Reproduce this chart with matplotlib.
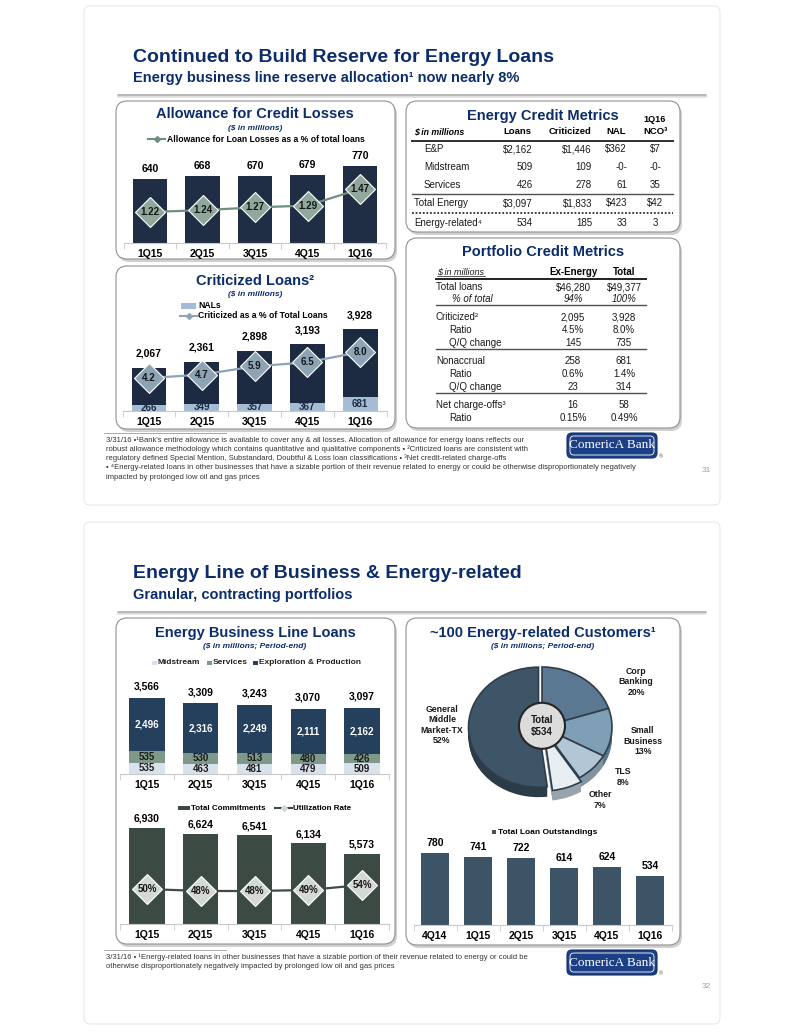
import matplotlib
matplotlib.use('Agg')
import matplotlib.pyplot as plt
from matplotlib.patches import FancyBboxPatch, Ellipse, Rectangle
import numpy as np

W, H = 799, 1034
plt.rcParams['font.family'] = ['Liberation Sans', 'DejaVu Sans']

NAVY = '#0c2d6b'

# ---- data ----
quarters = ['1Q15', '2Q15', '3Q15', '4Q15', '1Q16']
allowance = [640, 668, 670, 679, 770]
allowance_pct = [1.22, 1.24, 1.27, 1.29, 1.47]
criticized = [2067, 2361, 2898, 3193, 3928]
nals = [266, 349, 357, 367, 681]
criticized_pct = [4.2, 4.7, 5.9, 6.5, 8.0]

ecm_rows = ['E&P', 'Midstream', 'Services', 'Total Energy', 'Energy-related⁴']
ecm_loans = ['$2,162', '509', '426', '$3,097', '534']
ecm_crit = ['$1,446', '109', '278', '$1,833', '185']
ecm_nal = ['$362', '-0-', '61', '$423', '33']
ecm_nco = ['$7', '-0-', '35', '$42', '3']

pcm_rows = ['Total loans', '% of total', 'Criticized²', 'Ratio', 'Q/Q change',
            'Nonaccrual', 'Ratio', 'Q/Q change', 'Net charge-offs³', 'Ratio']
pcm_ex = ['$46,280', '94%', '2,095', '4.5%', '145', '258', '0.6%', '23', '16', '0.15%']
pcm_total = ['$49,377', '100%', '3,928', '8.0%', '735', '681', '1.4%', '314', '58', '0.49%']

midstream = [535, 463, 481, 479, 509]
services = [535, 530, 513, 480, 426]
exploration = [2496, 2316, 2249, 2111, 2162]
commitments = [6930, 6624, 6541, 6134, 5573]
utilization = [50, 48, 48, 49, 54]

pie_labels = ['Corp\nBanking', 'Small\nBusiness', 'TLS', 'Other', 'General\nMiddle\nMarket-TX']
pie_pcts = [20, 13, 8, 7, 52]
pie_total = 534

tlo_quarters = ['4Q14', '1Q15', '2Q15', '3Q15', '4Q15', '1Q16']
tlo = [780, 741, 722, 614, 624, 534]

foot1 = ["3/31/16 •¹Bank's entire allowance is available to cover any & all losses. Allocation of allowance for energy loans reflects our",
         "robust allowance methodology which contains quantitative and qualitative components • ²Criticized loans are consistent with",
         "regulatory defined Special Mention, Substandard, Doubtful & Loss loan classifications • ³Net credit-related charge-offs",
         "• ⁴Energy-related loans in other businesses that have a sizable portion of their revenue related to energy or could be otherwise disproportionately negatively",
         "impacted by prolonged low oil and gas prices"]
foot2 = ["3/31/16 • ¹Energy-related loans in other businesses that have a sizable portion of their revenue related to energy or could be",
         "otherwise disproportionately negatively impacted by prolonged low oil and gas prices"]

# ---- figure ----
fig = plt.figure(figsize=(W / 100, H / 100), dpi=100)
bg = fig.add_axes([0, 0, 1, 1])
bg.set_xlim(0, W)
bg.set_ylim(H, 0)
bg.axis('off')


def px_axes(x0, y0, x1, y1):
    ax = fig.add_axes([x0 / W, 1 - y1 / H, (x1 - x0) / W, (y1 - y0) / H])
    ax.patch.set_alpha(0)
    return ax


def box(x0, y0, x1, y1):
    bg.add_patch(FancyBboxPatch((x0 + 2, y0 + 3), x1 - x0, y1 - y0,
                                boxstyle='round,pad=0,rounding_size=11', fc='#d0d0d0', ec='none'))
    bg.add_patch(FancyBboxPatch((x0, y0), x1 - x0, y1 - y0,
                                boxstyle='round,pad=0,rounding_size=11', fc='white', ec='#909090', lw=0.8))


def slide(y0, y1, title, subtitle, liney, foot, footy, page):
    bg.add_patch(FancyBboxPatch((84, y0), 636, y1 - y0, boxstyle='round,pad=0,rounding_size=6',
                                fc='white', ec='#e2e2e2', lw=0.6))
    bg.text(133, liney - 38, title, fontsize=14, fontweight='bold', color=NAVY, va='center')
    bg.text(133, liney - 17, subtitle, fontsize=10.5, fontweight='bold', color=NAVY, va='center')
    bg.plot([117, 706], [liney, liney], color='#b8b8b8', lw=2.2, solid_capstyle='butt')
    bg.plot([117, 706], [liney + 2, liney + 2], color='#e4e4e4', lw=1.2, solid_capstyle='butt')
    bg.plot([104, 226], [footy - 7, footy - 7], color='#9a9a9a', lw=0.6)
    for k, line in enumerate(foot):
        bg.text(106, footy + k * 9.3, line, fontsize=5.5, color='#333333', va='center')
    # logo
    ly = footy - 7
    bg.add_patch(FancyBboxPatch((567, ly), 90, 25, boxstyle='round,pad=0,rounding_size=5',
                                fc='#1c3f85', ec='#12306b', lw=0.8))
    bg.add_patch(FancyBboxPatch((570, ly + 3), 84, 19, boxstyle='round,pad=0,rounding_size=4',
                                fc='none', ec='white', lw=0.6))
    bg.text(612, ly + 12.5, 'ComericA Bank', family='Liberation Serif', fontsize=9.5,
            color='white', ha='center', va='center')
    bg.text(661, ly + 24, '®', fontsize=4, color='#555555', ha='center', va='center')
    bg.text(706, ly + 37, page, fontsize=6, color='#a0a0a0', ha='center', va='center')


def box_title(xc, y, text, sub=None):
    bg.text(xc, y, text, fontsize=10.5, fontweight='bold', color=NAVY, ha='center', va='center')
    if sub:
        bg.text(xc, y + 14, sub, fontsize=6, fontweight='bold', style='italic', color=NAVY,
                ha='center', va='center')


def bar_axes(cx0, step, n, ytop, ybase, labels):
    ax = px_axes(cx0 - step / 2, ytop, cx0 + step * (n - 0.5), ybase)
    ax.set_xlim(-0.5, n - 0.5)
    for s in ['top', 'right', 'left']:
        ax.spines[s].set_visible(False)
    ax.spines['bottom'].set_color('#c8c8c8')
    ax.set_yticks([])
    ax.set_xticks(range(n))
    ax.set_xticklabels(labels, fontweight='bold', fontsize=7.5)
    ax.set_xticks(np.arange(-0.5, n), minor=True)
    ax.tick_params(axis='x', which='major', length=0, pad=4)
    ax.tick_params(axis='x', which='minor', length=4, color='#c8c8c8')
    return ax


def diamond_line(ax, vals, lo, hi, lc, dc, fmt, ms):
    ax2 = ax.twinx()
    ax2.set_ylim(lo, hi)
    ax2.axis('off')
    x = np.arange(len(vals))
    ax2.plot(x, vals, color=lc, lw=1.6, marker='D', ms=ms, mfc=dc, mec='white', mew=0.8, zorder=3)
    for i, v in enumerate(vals):
        ax2.text(i, v, fmt(v), ha='center', va='center', fontsize=7, fontweight='bold',
                 color='#151515', zorder=4)
    return ax2


def top_labels(ax, tops, off):
    for i, v in enumerate(tops):
        ax.annotate(f'{v:,}', (i, v), xytext=(0, off), textcoords='offset points',
                    ha='center', va='center', fontsize=7.5, fontweight='bold')


# ================= slide 1 =================
slide(6, 505, 'Continued to Build Reserve for Energy Loans',
      'Energy business line reserve allocation¹ now nearly 8%', 95, foot1, 440, '31')

box(116, 101, 395, 259)
box(116, 266, 395, 429)
box(406, 101, 680, 232)
box(406, 238, 680, 428)

# Allowance for Credit Losses
box_title(255, 114, 'Allowance for Credit Losses', '($ in millions)')
bg.plot([148, 165], [139, 139], color='#6f8f80', lw=1.5)
bg.plot([156.5], [139], marker='D', ms=3, color='#6f8f80')
bg.text(167, 139, 'Allowance for Loan Losses as a % of total loans', fontsize=6.2,
        fontweight='bold', va='center')
ax = bar_axes(150, 52.5, 5, 150, 243, quarters)
ax.bar(range(5), allowance, width=0.66, color='#1f2d45')
ax.set_ylim(0, 930)
top_labels(ax, allowance, 7.5)
diamond_line(ax, allowance_pct, 0.883, 1.894, '#6f8f80', '#8fa89b', lambda v: f'{v:.2f}', 15)

# Criticized Loans
box_title(255, 281, 'Criticized Loans²', '($ in millions)')
bg.add_patch(Rectangle((181, 303), 15, 6, fc='#a5bcd5', ec='none'))
bg.text(198, 306, 'NALs', fontsize=6.2, fontweight='bold', va='center')
bg.plot([180, 197], [316, 316], color='#8ca4b6', lw=1.5)
bg.plot([188.5], [316], marker='D', ms=3, color='#8ca4b6')
bg.text(198, 316, 'Criticized as a % of Total Loans', fontsize=6.2, fontweight='bold', va='center')
ax = bar_axes(149, 52.8, 5, 300, 411, quarters)
ax.bar(range(5), criticized, width=0.66, color='#1c2a42')
ax.bar(range(5), nals, width=0.66, color='#a5bcd5')
ax.set_ylim(0, 5317)
top_labels(ax, criticized, 10)
for i, v in enumerate(nals):
    ax.text(i, v / 2, f'{v:,}', ha='center', va='center', fontsize=7, fontweight='bold',
            color='#1c2a42')
diamond_line(ax, criticized_pct, -0.62, 15.6, '#8ca4b6', '#8ca4b6', lambda v: f'{v:.1f}', 15)

# Energy Credit Metrics table
bg.text(543, 116, 'Energy Credit Metrics', fontsize=10.5, fontweight='bold', color=NAVY,
        ha='center', va='center')
bg.text(655, 120, '1Q16', fontsize=6.5, fontweight='bold', ha='center', va='center')
hy = 132
bg.text(414, hy, '$ in millions', fontsize=6.3, fontweight='bold', style='italic', va='center')
for xr, t in [(531, 'Loans'), (591, 'Criticized'), (626, 'NAL')]:
    bg.text(xr, hy, t, fontsize=6.8, fontweight='bold', ha='right', va='center')
bg.text(655, hy, 'NCO³', fontsize=6.8, fontweight='bold', ha='center', va='center')
bg.plot([412, 673], [141, 141], color='#303030', lw=1.4)
row_y = [149, 167, 185, 203, 223]
row_x = [424, 424, 424, 414, 414]
for k in range(5):
    y = row_y[k]
    bg.text(row_x[k], y, ecm_rows[k], fontsize=7, va='center', color='#1a1a1a')
    bg.text(533, y, ecm_loans[k], fontsize=7, ha='right', va='center', color='#1a1a1a')
    bg.text(592, y, ecm_crit[k], fontsize=7, ha='right', va='center', color='#1a1a1a')
    bg.text(627, y, ecm_nal[k], fontsize=7, ha='right', va='center', color='#1a1a1a')
    bg.text(655, y, ecm_nco[k], fontsize=7, ha='center', va='center', color='#1a1a1a')
bg.plot([412, 673], [194, 194], color='#505050', lw=1.0)
bg.plot([412, 673], [213, 213], color='#303030', lw=1.3, ls=(0, (1, 1)))

# Portfolio Credit Metrics table
bg.text(543, 252, 'Portfolio Credit Metrics', fontsize=10.5, fontweight='bold', color=NAVY,
        ha='center', va='center')
bg.text(437, 272, '$ in millions', fontsize=6.5, style='italic', va='center', color='#1a1a1a')
bg.plot([437, 485], [276, 276], color='#1a1a1a', lw=0.5)
bg.text(573, 272, 'Ex-Energy', fontsize=7, fontweight='bold', ha='center', va='center')
bg.text(624, 272, 'Total', fontsize=7, fontweight='bold', ha='center', va='center')
bg.plot([436, 646], [278.5, 278.5], color='#202020', lw=1.4)
pcm_y = [287, 299, 317, 330, 343, 361, 374, 387, 405, 418]
pcm_indent = [0, 16, 0, 13, 13, 0, 13, 13, 0, 13]
for k in range(len(pcm_rows)):
    st = 'italic' if k == 1 else 'normal'
    y = pcm_y[k]
    bg.text(436 + pcm_indent[k], y, pcm_rows[k], fontsize=7, style=st, va='center', color='#1a1a1a')
    bg.text(573, y, pcm_ex[k], fontsize=7, style=st, ha='center', va='center', color='#1a1a1a')
    bg.text(624, y, pcm_total[k], fontsize=7, style=st, ha='center', va='center', color='#1a1a1a')
for y in [305, 349, 393]:
    bg.plot([436, 646], [y, y], color='#505050', lw=1.0)

# ================= slide 2 =================
slide(522, 1024, 'Energy Line of Business & Energy-related', 'Granular, contracting portfolios',
      612, foot2, 957, '32')

box(116, 618, 395, 944)
box(406, 618, 680, 945)

# Energy Business Line Loans
box_title(255, 633, 'Energy Business Line Loans', '($ in millions; Period-end)')
leg = [(152, 'Midstream', '#d8e2ec'), (207, 'Services', '#7e998a'),
       (253, 'Exploration & Production', '#24405c')]
for x, t, c in leg:
    bg.add_patch(Rectangle((x, 660.5), 4.5, 4.5, fc=c, ec='none'))
    bg.text(x + 6, 663, t, fontsize=6, fontweight='bold', va='center', color='#222222')
ax = bar_axes(147, 53.75, 5, 690, 774, quarters)
x = np.arange(5)
mid = np.array(midstream)
srv = np.array(services)
exp = np.array(exploration)
ax.bar(x, mid, width=0.66, color='#d8e2ec')
ax.bar(x, srv, bottom=mid, width=0.66, color='#7e998a')
ax.bar(x, exp, bottom=mid + srv, width=0.66, color='#24405c')
ax.set_ylim(0, 3941)
top_labels(ax, list(mid + srv + exp), 8)
for i in range(5):
    ax.text(i, mid[i] / 2, f'{mid[i]:,}', ha='center', va='center', fontsize=7, fontweight='bold',
            color='#1a1a1a')
    ax.text(i, mid[i] + srv[i] / 2, f'{srv[i]:,}', ha='center', va='center', fontsize=7,
            fontweight='bold', color='#1a1a1a')
    ax.text(i, mid[i] + srv[i] + exp[i] / 2, f'{exp[i]:,}', ha='center', va='center', fontsize=7,
            fontweight='bold', color='white')

# Commitments / utilization
bg.add_patch(Rectangle((178, 806), 12, 4, fc='#3b4b43', ec='none'))
bg.text(191, 808, 'Total Commitments', fontsize=5.8, fontweight='bold', va='center')
bg.plot([275, 292], [808, 808], color='#3b4b43', lw=1.5)
bg.plot([283.5], [808], marker='D', ms=3, mfc='#d5d9d5', mec='#d5d9d5')
bg.text(293, 808, 'Utilization Rate', fontsize=5.8, fontweight='bold', va='center')
ax = bar_axes(147, 53.75, 5, 815, 924, quarters)
ax.bar(range(5), commitments, width=0.66, color='#3b4b43')
ax.set_ylim(1900, 7600)
top_labels(ax, commitments, 6.5)
diamond_line(ax, utilization, 15, 124, '#3d4d45', '#d5d9d5', lambda v: f'{v}%', 15)

# ~100 Energy-related Customers
box_title(543, 633, '~100 Energy-related Customers¹', '($ in millions; Period-end)')
pax = px_axes(462, 647, 622, 807)
rx, ry, depth = 70.0, 60.0, 10.0
top_cols = ['#5a7891', '#7f9fb6', '#b3c6d5', '#e9eef2', '#3e5567']
side_cols = ['#3f566a', '#5c7689', '#7f93a2', '#9aa3aa', '#2b3b48']
explode = [0, 0, 0, 0.07, 0.05]
for d in np.linspace(depth, 1, 10):
    pax.pie(pie_pcts, colors=side_cols, startangle=90, counterclock=False, explode=explode,
            center=(0, -d / ry), wedgeprops=dict(lw=0))
pax.pie(pie_pcts, colors=top_cols, startangle=90, counterclock=False, explode=explode,
        center=(0, 0), wedgeprops=dict(lw=1.2, ec='#2f3e4c'))
pax.set_aspect('auto')
pax.set_xlim(-80 / rx, 80 / rx)
pax.set_ylim(-80 / ry, 80 / ry)
pax.axis('off')
pax.add_patch(Ellipse((0, 0.02), 46 / rx, 46 / ry, fc='#dcdcdc', ec='#262626', lw=1.5, zorder=5))
pax.text(0, 0.02, f'Total\n${pie_total}', ha='center', va='center', fontsize=7, fontweight='bold',
         color='#1a1a1a', zorder=6, linespacing=1.2)
lab_pos = [(636, 682), (643, 741), (623, 777), (600, 800), (442, 725)]
for (lx, ly), t, p in zip(lab_pos, pie_labels, pie_pcts):
    bg.text(lx, ly, f'{t}\n{p}%', ha='center', va='center', fontsize=6.3, fontweight='bold',
            color='#1a1a1a', linespacing=1.15)

# Total Loan Outstandings
bg.add_patch(Rectangle((492, 830), 4, 4, fc='#3d5466', ec='none'))
bg.text(497.5, 832, 'Total Loan Outstandings', fontsize=6, fontweight='bold', va='center')
ax = bar_axes(435, 43, 6, 840, 925, tlo_quarters)
ax.bar(range(6), tlo, width=0.65, color='#3d5466')
ax.set_ylim(0, 921)
top_labels(ax, tlo, 7.2)

fig.savefig('out.png', dpi=100)
